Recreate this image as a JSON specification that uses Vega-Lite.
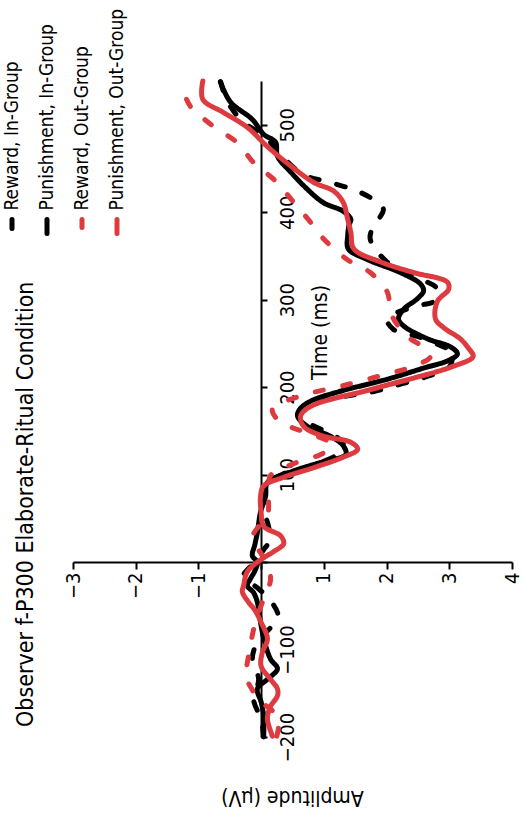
{
  "$schema": "https://vega.github.io/schema/vega-lite/v6.json",
  "width": 439,
  "height": 656,
  "autosize": {"type": "none"},
  "padding": {"left": 73, "top": 81, "right": 12, "bottom": 78},
  "config": {"view": {"stroke": null}, "font": "DejaVu Sans Condensed, Liberation Sans, sans-serif"},
  "title": {"text": "Observer f-P300 Elaborate-Ritual Condition", "orient": "left", "anchor": "start", "frame": "group", "offset": -49, "baseline": "bottom", "dx": 10, "fontSize": 23, "fontWeight": "normal", "font": "DejaVu Sans Condensed, Liberation Sans, sans-serif", "color": "black"},
  "data": {"values": [
    {"s":"Reward, In-Group","t":-199,"a":0.04},{"s":"Reward, In-Group","t":-180,"a":0.0},{"s":"Reward, In-Group","t":-157,"a":-0.12},{"s":"Reward, In-Group","t":-134,"a":-0.04},{"s":"Reward, In-Group","t":-111,"a":-0.14},{"s":"Reward, In-Group","t":-90,"a":-0.05},{"s":"Reward, In-Group","t":-75,"a":0.15},{"s":"Reward, In-Group","t":-62,"a":0.27},{"s":"Reward, In-Group","t":-44,"a":0.15},{"s":"Reward, In-Group","t":-30,"a":-0.05},{"s":"Reward, In-Group","t":-16,"a":-0.28},{"s":"Reward, In-Group","t":0,"a":-0.1},{"s":"Reward, In-Group","t":15,"a":0.05},{"s":"Reward, In-Group","t":26,"a":0.15},{"s":"Reward, In-Group","t":40,"a":0.12},{"s":"Reward, In-Group","t":60,"a":0.05},{"s":"Reward, In-Group","t":80,"a":0.07},{"s":"Reward, In-Group","t":95,"a":0.2},{"s":"Reward, In-Group","t":108,"a":0.7},{"s":"Reward, In-Group","t":120,"a":1.15},{"s":"Reward, In-Group","t":128,"a":1.3},{"s":"Reward, In-Group","t":137,"a":1.3},{"s":"Reward, In-Group","t":147,"a":1.1},{"s":"Reward, In-Group","t":157,"a":0.8},{"s":"Reward, In-Group","t":167,"a":0.6},{"s":"Reward, In-Group","t":175,"a":0.62},{"s":"Reward, In-Group","t":185,"a":1.0},{"s":"Reward, In-Group","t":195,"a":1.8},{"s":"Reward, In-Group","t":203,"a":2.2},{"s":"Reward, In-Group","t":211,"a":2.6},{"s":"Reward, In-Group","t":223,"a":3.0},{"s":"Reward, In-Group","t":232,"a":3.05},{"s":"Reward, In-Group","t":241,"a":3.08},{"s":"Reward, In-Group","t":246,"a":2.91},{"s":"Reward, In-Group","t":258,"a":2.49},{"s":"Reward, In-Group","t":266,"a":2.11},{"s":"Reward, In-Group","t":278,"a":2.01},{"s":"Reward, In-Group","t":293,"a":2.49},{"s":"Reward, In-Group","t":298,"a":2.75},{"s":"Reward, In-Group","t":312,"a":2.81},{"s":"Reward, In-Group","t":327,"a":2.43},{"s":"Reward, In-Group","t":343,"a":2.01},{"s":"Reward, In-Group","t":369,"a":1.74},{"s":"Reward, In-Group","t":384,"a":1.79},{"s":"Reward, In-Group","t":395,"a":1.9},{"s":"Reward, In-Group","t":403,"a":1.95},{"s":"Reward, In-Group","t":409,"a":1.9},{"s":"Reward, In-Group","t":424,"a":1.54},{"s":"Reward, In-Group","t":434,"a":1.1},{"s":"Reward, In-Group","t":443,"a":0.67},{"s":"Reward, In-Group","t":466,"a":0.31},{"s":"Reward, In-Group","t":486,"a":0.07},{"s":"Reward, In-Group","t":504,"a":-0.3},{"s":"Reward, In-Group","t":527,"a":-0.54},{"s":"Reward, In-Group","t":550,"a":-0.65},

    {"s":"Punishment, In-Group","t":-200,"a":0.04},{"s":"Punishment, In-Group","t":-176,"a":0.04},{"s":"Punishment, In-Group","t":-160,"a":0.0},{"s":"Punishment, In-Group","t":-145,"a":-0.06},{"s":"Punishment, In-Group","t":-134,"a":0.1},{"s":"Punishment, In-Group","t":-122,"a":0.26},{"s":"Punishment, In-Group","t":-111,"a":0.15},{"s":"Punishment, In-Group","t":-90,"a":0.05},{"s":"Punishment, In-Group","t":-73,"a":0.0},{"s":"Punishment, In-Group","t":-60,"a":-0.03},{"s":"Punishment, In-Group","t":-46,"a":-0.06},{"s":"Punishment, In-Group","t":-35,"a":-0.12},{"s":"Punishment, In-Group","t":-27,"a":-0.22},{"s":"Punishment, In-Group","t":-19,"a":-0.17},{"s":"Punishment, In-Group","t":-10,"a":-0.1},{"s":"Punishment, In-Group","t":0,"a":-0.06},{"s":"Punishment, In-Group","t":7,"a":-0.14},{"s":"Punishment, In-Group","t":20,"a":-0.1},{"s":"Punishment, In-Group","t":34,"a":-0.06},{"s":"Punishment, In-Group","t":57,"a":-0.01},{"s":"Punishment, In-Group","t":75,"a":0.07},{"s":"Punishment, In-Group","t":91,"a":0.1},{"s":"Punishment, In-Group","t":103,"a":0.47},{"s":"Punishment, In-Group","t":114,"a":0.95},{"s":"Punishment, In-Group","t":123,"a":1.35},{"s":"Punishment, In-Group","t":133,"a":1.31},{"s":"Punishment, In-Group","t":144,"a":1.1},{"s":"Punishment, In-Group","t":155,"a":0.74},{"s":"Punishment, In-Group","t":167,"a":0.58},{"s":"Punishment, In-Group","t":175,"a":0.62},{"s":"Punishment, In-Group","t":184,"a":0.79},{"s":"Punishment, In-Group","t":195,"a":1.25},{"s":"Punishment, In-Group","t":209,"a":2.01},{"s":"Punishment, In-Group","t":222,"a":2.6},{"s":"Punishment, In-Group","t":230,"a":2.97},{"s":"Punishment, In-Group","t":238,"a":3.13},{"s":"Punishment, In-Group","t":246,"a":3.02},{"s":"Punishment, In-Group","t":255,"a":2.66},{"s":"Punishment, In-Group","t":270,"a":2.27},{"s":"Punishment, In-Group","t":278,"a":2.19},{"s":"Punishment, In-Group","t":289,"a":2.27},{"s":"Punishment, In-Group","t":301,"a":2.49},{"s":"Punishment, In-Group","t":310,"a":2.59},{"s":"Punishment, In-Group","t":318,"a":2.54},{"s":"Punishment, In-Group","t":331,"a":2.22},{"s":"Punishment, In-Group","t":346,"a":1.69},{"s":"Punishment, In-Group","t":358,"a":1.39},{"s":"Punishment, In-Group","t":373,"a":1.38},{"s":"Punishment, In-Group","t":385,"a":1.4},{"s":"Punishment, In-Group","t":392,"a":1.43},{"s":"Punishment, In-Group","t":401,"a":1.31},{"s":"Punishment, In-Group","t":411,"a":0.99},{"s":"Punishment, In-Group","t":426,"a":0.74},{"s":"Punishment, In-Group","t":446,"a":0.47},{"s":"Punishment, In-Group","t":464,"a":0.26},{"s":"Punishment, In-Group","t":480,"a":0.23},{"s":"Punishment, In-Group","t":489,"a":0.04},{"s":"Punishment, In-Group","t":506,"a":-0.14},{"s":"Punishment, In-Group","t":526,"a":-0.49},{"s":"Punishment, In-Group","t":549,"a":-0.65},

    {"s":"Reward, Out-Group","t":-199,"a":0.25},{"s":"Reward, Out-Group","t":-180,"a":0.28},{"s":"Reward, Out-Group","t":-170,"a":0.18},{"s":"Reward, Out-Group","t":-157,"a":-0.05},{"s":"Reward, Out-Group","t":-145,"a":-0.15},{"s":"Reward, Out-Group","t":-130,"a":-0.25},{"s":"Reward, Out-Group","t":-115,"a":-0.22},{"s":"Reward, Out-Group","t":-100,"a":-0.18},{"s":"Reward, Out-Group","t":-80,"a":-0.13},{"s":"Reward, Out-Group","t":-60,"a":-0.05},{"s":"Reward, Out-Group","t":-40,"a":0.05},{"s":"Reward, Out-Group","t":-20,"a":0.15},{"s":"Reward, Out-Group","t":0,"a":0.08},{"s":"Reward, Out-Group","t":15,"a":-0.05},{"s":"Reward, Out-Group","t":28,"a":-0.14},{"s":"Reward, Out-Group","t":40,"a":-0.05},{"s":"Reward, Out-Group","t":53,"a":0.1},{"s":"Reward, Out-Group","t":75,"a":0.12},{"s":"Reward, Out-Group","t":99,"a":0.15},{"s":"Reward, Out-Group","t":112,"a":0.5},{"s":"Reward, Out-Group","t":125,"a":1.0},{"s":"Reward, Out-Group","t":135,"a":1.12},{"s":"Reward, Out-Group","t":145,"a":0.85},{"s":"Reward, Out-Group","t":155,"a":0.45},{"s":"Reward, Out-Group","t":163,"a":0.26},{"s":"Reward, Out-Group","t":175,"a":0.18},{"s":"Reward, Out-Group","t":190,"a":0.63},{"s":"Reward, Out-Group","t":201,"a":1.27},{"s":"Reward, Out-Group","t":213,"a":1.9},{"s":"Reward, Out-Group","t":224,"a":2.43},{"s":"Reward, Out-Group","t":235,"a":2.7},{"s":"Reward, Out-Group","t":245,"a":2.6},{"s":"Reward, Out-Group","t":258,"a":2.33},{"s":"Reward, Out-Group","t":281,"a":2.09},{"s":"Reward, Out-Group","t":295,"a":2.05},{"s":"Reward, Out-Group","t":309,"a":2.01},{"s":"Reward, Out-Group","t":331,"a":1.74},{"s":"Reward, Out-Group","t":346,"a":1.37},{"s":"Reward, Out-Group","t":370,"a":0.99},{"s":"Reward, Out-Group","t":390,"a":0.77},{"s":"Reward, Out-Group","t":413,"a":0.5},{"s":"Reward, Out-Group","t":437,"a":0.21},{"s":"Reward, Out-Group","t":456,"a":-0.11},{"s":"Reward, Out-Group","t":480,"a":-0.39},{"s":"Reward, Out-Group","t":497,"a":-0.74},{"s":"Reward, Out-Group","t":512,"a":-1.0},{"s":"Reward, Out-Group","t":520,"a":-1.12},{"s":"Reward, Out-Group","t":537,"a":-1.21},{"s":"Reward, Out-Group","t":546,"a":-1.08},

    {"s":"Punishment, Out-Group","t":-199,"a":0.18},{"s":"Punishment, Out-Group","t":-179,"a":0.1},{"s":"Punishment, Out-Group","t":-165,"a":0.15},{"s":"Punishment, Out-Group","t":-153,"a":0.26},{"s":"Punishment, Out-Group","t":-145,"a":0.26},{"s":"Punishment, Out-Group","t":-134,"a":0.15},{"s":"Punishment, Out-Group","t":-119,"a":0.0},{"s":"Punishment, Out-Group","t":-103,"a":0.02},{"s":"Punishment, Out-Group","t":-88,"a":0.1},{"s":"Punishment, Out-Group","t":-69,"a":0.0},{"s":"Punishment, Out-Group","t":-55,"a":-0.1},{"s":"Punishment, Out-Group","t":-46,"a":-0.2},{"s":"Punishment, Out-Group","t":-34,"a":-0.3},{"s":"Punishment, Out-Group","t":-27,"a":-0.28},{"s":"Punishment, Out-Group","t":-11,"a":-0.22},{"s":"Punishment, Out-Group","t":3,"a":0.0},{"s":"Punishment, Out-Group","t":12,"a":0.2},{"s":"Punishment, Out-Group","t":21,"a":0.36},{"s":"Punishment, Out-Group","t":30,"a":0.31},{"s":"Punishment, Out-Group","t":41,"a":0.04},{"s":"Punishment, Out-Group","t":57,"a":0.0},{"s":"Punishment, Out-Group","t":75,"a":-0.01},{"s":"Punishment, Out-Group","t":87,"a":0.04},{"s":"Punishment, Out-Group","t":97,"a":0.36},{"s":"Punishment, Out-Group","t":108,"a":0.84},{"s":"Punishment, Out-Group","t":120,"a":1.31},{"s":"Punishment, Out-Group","t":129,"a":1.54},{"s":"Punishment, Out-Group","t":137,"a":1.43},{"s":"Punishment, Out-Group","t":144,"a":0.99},{"s":"Punishment, Out-Group","t":155,"a":0.68},{"s":"Punishment, Out-Group","t":167,"a":0.63},{"s":"Punishment, Out-Group","t":178,"a":0.79},{"s":"Punishment, Out-Group","t":198,"a":1.79},{"s":"Punishment, Out-Group","t":224,"a":3.07},{"s":"Punishment, Out-Group","t":235,"a":3.38},{"s":"Punishment, Out-Group","t":245,"a":3.3},{"s":"Punishment, Out-Group","t":255,"a":3.18},{"s":"Punishment, Out-Group","t":268,"a":2.91},{"s":"Punishment, Out-Group","t":278,"a":2.78},{"s":"Punishment, Out-Group","t":298,"a":2.81},{"s":"Punishment, Out-Group","t":312,"a":2.99},{"s":"Punishment, Out-Group","t":320,"a":2.97},{"s":"Punishment, Out-Group","t":331,"a":2.43},{"s":"Punishment, Out-Group","t":343,"a":1.91},{"s":"Punishment, Out-Group","t":358,"a":1.48},{"s":"Punishment, Out-Group","t":377,"a":1.43},{"s":"Punishment, Out-Group","t":392,"a":1.38},{"s":"Punishment, Out-Group","t":411,"a":1.31},{"s":"Punishment, Out-Group","t":424,"a":1.16},{"s":"Punishment, Out-Group","t":434,"a":0.84},{"s":"Punishment, Out-Group","t":453,"a":0.47},{"s":"Punishment, Out-Group","t":475,"a":0.1},{"s":"Punishment, Out-Group","t":497,"a":-0.22},{"s":"Punishment, Out-Group","t":514,"a":-0.6},{"s":"Punishment, Out-Group","t":529,"a":-0.93},{"s":"Punishment, Out-Group","t":550,"a":-0.93}
  ]},
  "mark": {"type": "line", "strokeWidth": 5, "interpolate": "catmull-rom", "strokeCap": "round", "strokeJoin": "round"},
  "encoding": {
    "x": {"field": "a", "type": "quantitative",
      "scale": {"domain": [-3, 4], "nice": false, "zero": false},
      "axis": {"title": "Amplitude (μV)", "orient": "bottom", "offset": -175, "values": [-3,-2,-1,0,1,2,3,4],
        "labelExpr": "datum.value == 0 ? '' : datum.label", "labelAngle": -90, "labelFontSize": 20, "labelColor": "black",
        "labelFont": "DejaVu Sans Condensed, Liberation Sans, sans-serif", "labelPadding": 3, "labelFlush": false, "labelOverlap": false,
        "tickSize": 7, "tickColor": "black", "tickWidth": 2, "domainColor": "black", "domainWidth": 2, "grid": false,
        "titleAngle": 180, "titleFontSize": 21, "titleFontWeight": "normal", "titleColor": "black", "titleFont": "DejaVu Sans Condensed, Liberation Sans, sans-serif",
        "titleX": 219, "titleY": 234, "titleAlign": "center", "titleBaseline": "middle"}},
    "y": {"field": "t", "type": "quantitative",
      "scale": {"domain": [-200, 550], "nice": false, "zero": false},
      "axis": {"title": "Time (ms)", "orient": "right", "offset": -251, "values": [-200,-100,0,100,200,300,400,500],
        "labelExpr": "datum.value == 0 ? '' : datum.label", "labelAngle": -90, "labelFontSize": 20, "labelColor": "black",
        "labelFont": "DejaVu Sans Condensed, Liberation Sans, sans-serif", "labelPadding": 10, "labelFlush": false, "labelOverlap": false,
        "tickSize": 6, "tickColor": "black", "tickWidth": 2, "domainColor": "black", "domainWidth": 2, "grid": false,
        "titleAngle": 270, "titleFontSize": 21, "titleFontWeight": "normal", "titleColor": "black", "titleFont": "DejaVu Sans Condensed, Liberation Sans, sans-serif",
        "titleX": 59, "titleY": 251, "titleAlign": "center", "titleBaseline": "middle"}},
    "order": {"field": "t", "type": "quantitative"},
    "color": {"field": "s", "type": "nominal",
      "scale": {"domain": ["Reward, In-Group", "Punishment, In-Group", "Reward, Out-Group", "Punishment, Out-Group"], "range": ["#000000", "#000000", "#de3b40", "#de3b40"]},
      "legend": {"orient": "none", "legendX": -61, "legendY": 145, "direction": "horizontal", "title": null,
        "labelFont": "DejaVu Sans Condensed, Liberation Sans, sans-serif", "labelFontSize": 19, "labelColor": "black", "labelLimit": 0,
        "symbolType": "stroke", "symbolSize": 200, "symbolStrokeWidth": 5, "columnPadding": 14,
        "encode": {"symbols": {"update": {"angle": {"value": 90}, "x": {"value": 0}, "y": {"value": 0}, "strokeCap": {"value": "round"}}},
                   "labels": {"update": {"angle": {"value": -90}, "align": {"value": "left"}, "baseline": {"value": "middle"}, "x": {"value": 0}, "y": {"value": -16}}}}}},
    "strokeDash": {"field": "s", "type": "nominal",
      "scale": {"domain": ["Reward, In-Group", "Punishment, In-Group", "Reward, Out-Group", "Punishment, Out-Group"], "range": [[9, 18], [1, 0], [8, 20], [1, 0]]},
      "legend": {"orient": "none", "legendX": -61, "legendY": 145, "direction": "horizontal", "title": null,
        "labelFont": "DejaVu Sans Condensed, Liberation Sans, sans-serif", "labelFontSize": 19, "labelColor": "black", "labelLimit": 0,
        "symbolType": "stroke", "symbolSize": 200, "symbolStrokeWidth": 5, "columnPadding": 14,
        "encode": {"symbols": {"update": {"angle": {"value": 90}, "x": {"value": 0}, "y": {"value": 0}, "strokeCap": {"value": "round"}}},
                   "labels": {"update": {"angle": {"value": -90}, "align": {"value": "left"}, "baseline": {"value": "middle"}, "x": {"value": 0}, "y": {"value": -16}}}}}}
  }
}
